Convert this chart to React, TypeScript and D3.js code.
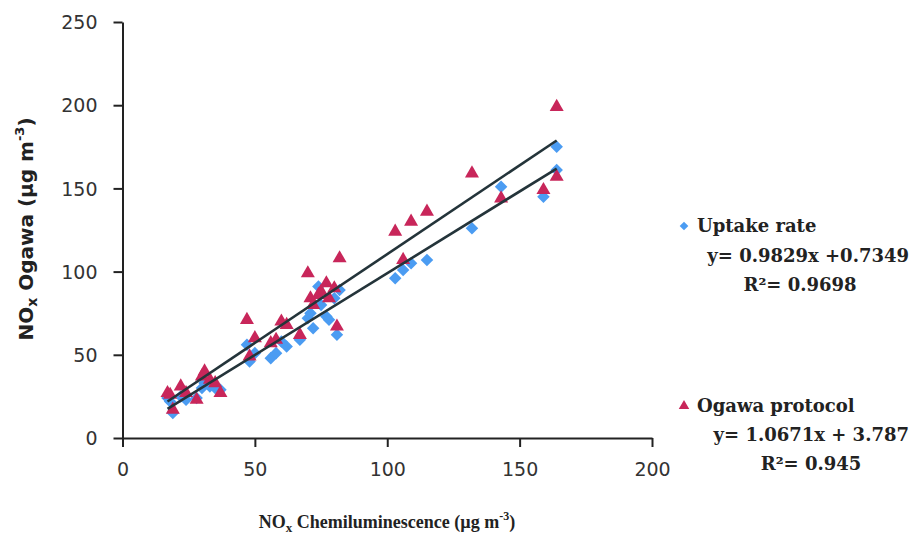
import React, { useEffect, useRef } from 'react';
import * as d3 from 'd3';

// NOx chemiluminescence (x) for each sampling, with both Ogawa estimates
const chemX = [17, 18, 19, 22, 24, 28, 30, 31, 33, 35, 37, 47, 48, 50, 56, 58, 60, 62, 67, 70, 71, 72, 74, 75, 77, 78, 80, 81, 82, 103, 106, 109, 115, 132, 143, 159, 164, 164];
const uptakeY = [24, 22, 15, 25, 23, 24, 30, 33, 31, 30, 29, 56, 46, 51, 48, 51, 58, 55, 59, 72, 75, 66, 91, 80, 73, 71, 84, 62, 89, 96, 101, 105, 107, 126, 151, 145, 175, 161];
const ogawaY = [27, 26, 17, 31, 27, 23, 37, 40, 35, 33, 27, 71, 49, 60, 57, 59, 70, 68, 62, 99, 84, 80, 86, 88, 93, 84, 90, 67, 108, 124, 107, 130, 136, 159, 144, 149, 199, 157];

const xTicks = [0, 50, 100, 150, 200];
const yTicks = [0, 50, 100, 150, 200, 250];

const uptakeFit = { slope: 0.9829, intercept: 0.7349, r2: '0.9698' };
const ogawaFit = { slope: 1.0671, intercept: 3.787, r2: '0.945' };

const BLUE = '#4b9cf2';
const RED = '#c8265a';

export default function App() {
  const ref = useRef<SVGSVGElement>(null);

  useEffect(() => {
    const svg = d3.select(ref.current);
    svg.selectAll('*').remove();

    const x = d3.scaleLinear().domain([0, 200]).range([122.5, 652]);
    const y = d3.scaleLinear().domain([0, 250]).range([438, 22]);

    // axes
    const xAxis = svg.append('g')
      .attr('transform', `translate(0,${y(0)})`)
      .call(d3.axisBottom(x).tickValues(xTicks).tickSize(9).tickPadding(10).tickSizeOuter(0));
    const yAxis = svg.append('g')
      .attr('transform', `translate(${x(0)},0)`)
      .call(d3.axisLeft(y).tickValues(yTicks).tickSize(9).tickPadding(16).tickSizeOuter(0));

    [xAxis, yAxis].forEach(g => {
      g.select('.domain').attr('stroke', '#222').attr('stroke-width', 2);
      g.selectAll('.tick line').attr('stroke', '#222').attr('stroke-width', 2);
      g.selectAll('.tick text')
        .attr('fill', '#333')
        .style('font-family', '"DejaVu Sans", sans-serif')
        .style('font-size', '19px');
    });
    xAxis.selectAll('.tick text').attr('dy', '1em');
    yAxis.selectAll('.tick text').attr('dy', '0.35em');

    const pts = chemX.map((cx, i) => ({ cx, u: uptakeY[i], o: ogawaY[i] }));

    const diamond = d3.symbol(d3.symbolDiamond2, 100);
    const tri = d3.symbol(d3.symbolTriangle, 85);

    svg.append('g').selectAll('path')
      .data(pts)
      .enter().append('path')
        .attr('d', diamond)
        .attr('fill', BLUE)
        .attr('transform', d => `translate(${x(d.cx)},${y(d.u)})`);

    svg.append('g').selectAll('path')
      .data(pts)
      .enter().append('path')
        .attr('d', tri)
        .attr('fill', RED)
        .attr('transform', d => `translate(${x(d.cx)},${y(d.o)})`);

    // trend lines over the data range
    const [xmin, xmax] = d3.extent(chemX) as [number, number];
    const line = d3.line<number>().x(d => x(d));
    [uptakeFit, ogawaFit].forEach(f => {
      svg.append('path')
        .attr('d', line.y(d => y(f.slope * d + f.intercept))([xmin, xmax]))
        .attr('stroke', '#24343a')
        .attr('stroke-width', 2.6)
        .attr('fill', 'none');
    });

    // axis titles
    const xt = svg.append('text')
      .attr('x', 387).attr('y', 528)
      .attr('text-anchor', 'middle')
      .attr('fill', '#222')
      .style('font-family', '"Liberation Serif", serif')
      .style('font-weight', 'bold')
      .style('font-size', '18px');
    xt.append('tspan').text('NO');
    xt.append('tspan').text('x').attr('dy', 4).style('font-size', '13px');
    xt.append('tspan').text(' Chemiluminescence (µg m').attr('dy', -4);
    xt.append('tspan').text('-3').attr('dy', -8).style('font-size', '12px');
    xt.append('tspan').text(')').attr('dy', 8);

    const yt = svg.append('text')
      .attr('transform', 'translate(33,229) rotate(-90)')
      .attr('text-anchor', 'middle')
      .attr('fill', '#222')
      .style('font-family', '"DejaVu Sans", sans-serif')
      .style('font-weight', 'bold')
      .style('font-size', '20px');
    yt.append('tspan').text('NO');
    yt.append('tspan').text('x').attr('dy', 4).style('font-size', '14px');
    yt.append('tspan').text(' Ogawa (µg m').attr('dy', -4);
    yt.append('tspan').text('-3').attr('dy', -9).style('font-size', '13px');
    yt.append('tspan').text(')').attr('dy', 9);

    // legend
    const lg = svg.append('g')
      .attr('fill', '#222')
      .style('font-family', '"DejaVu Serif", serif')
      .style('font-weight', 'bold')
      .style('font-size', '18px');

    lg.append('path').attr('d', d3.symbol(d3.symbolDiamond2, 48)).attr('fill', BLUE)
      .attr('transform', 'translate(684,226)');
    lg.append('text').attr('x', 697).attr('y', 232).text('Uptake rate');
    lg.append('text').attr('x', 909).attr('y', 262).attr('text-anchor', 'end')
      .text(`y= ${uptakeFit.slope}x +${uptakeFit.intercept}`);
    lg.append('text').attr('x', 800).attr('y', 291).attr('text-anchor', 'middle')
      .text(`R²= ${uptakeFit.r2}`);

    lg.append('path').attr('d', d3.symbol(d3.symbolTriangle, 48)).attr('fill', RED)
      .attr('transform', 'translate(684,406)');
    lg.append('text').attr('x', 697).attr('y', 412).text('Ogawa protocol');
    lg.append('text').attr('x', 909).attr('y', 441).attr('text-anchor', 'end')
      .text(`y= ${ogawaFit.slope}x + ${ogawaFit.intercept}`);
    lg.append('text').attr('x', 811).attr('y', 470).attr('text-anchor', 'middle')
      .text(`R²= ${ogawaFit.r2}`);
  }, []);

  return (
    <div style={{ position: 'absolute', left: 0, top: 0 }}>
      <svg ref={ref} width={919} height={547} style={{ display: 'block', background: '#fff' }} />
    </div>
  );
}
